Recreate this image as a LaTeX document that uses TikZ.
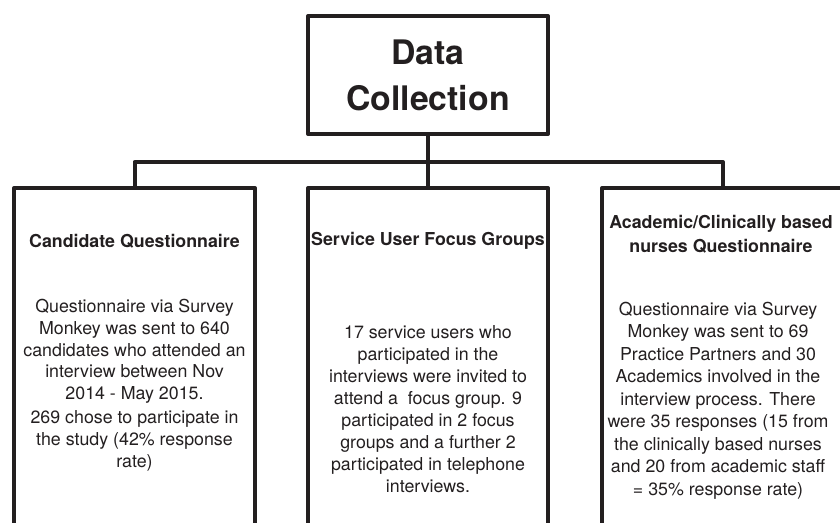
\documentclass[tikz,border=0pt]{standalone}
\usepackage{fontspec}
\setmainfont{TeX Gyre Heros}
\definecolor{ink}{HTML}{231F20}
\begin{document}
\begin{tikzpicture}[x=1pt,y=-1pt,
  frame/.style={draw=ink, line width=4pt, line join=round, rectangle, inner sep=0pt, outer sep=0pt},
  link/.style={draw=ink, line width=4pt, line join=round},
  titletext/.style={font=\fontsize{33.8}{46}\selectfont\bfseries, text=ink, align=center, inner sep=0pt, anchor=base},
  head/.style={font=\fontsize{17.8}{24}\selectfont\bfseries, text=ink, align=center, inner sep=0pt, anchor=base},
  body/.style={font=\fontsize{17.8}{21.9}\selectfont, text=ink, align=center, inner sep=0pt, anchor=base}]
\useasboundingbox (0,0) rectangle (840,522);
\begin{scope}
\clip (0,0) rectangle (840,522);
\node[frame, minimum width=240pt, minimum height=118pt] (top) at (428,75) {};
\node[frame, minimum width=241pt, minimum height=352pt] (cand) at (134.5,364) {};
\node[frame, minimum width=240pt, minimum height=352pt] (serv) at (428,364) {};
\node[frame, minimum width=242pt, minimum height=352pt] (acad) at (723,364) {};
\coordinate (bar) at (428,162);
\draw[link] (top.south) -- (serv.north);
\draw[link] (cand.north) -- (cand.north |- bar) -| (acad.north);

% anchor=base of a multi-line node lies on its last line
\node[titletext] (ttl) at (428,110) {Data\\Collection};

\node[head] (candh) at (134.5,247) {Candidate Questionnaire};
\node[body] (candb) at (134.5,467) {Questionnaire via Survey\\Monkey was sent to 640\\candidates who attended an\\interview between Nov\\2014 - May 2015.\\[1.5pt]269 chose to participate in\\the study (42\% response\\rate)};

\node[head] (servh) at (428,245) {Service User Focus Groups};
\node[body] (servb) at (428,492) {17 service users who\\participated in the\\interviews were invited to\\attend a\ \ focus group. 9\\participated in 2 focus\\groups and a further 2\\participated in telephone\\interviews.};

\node[head] (acadh) at (721,252) {Academic/Clinically based\\nurses Questionnaire};
\node[body, font=\fontsize{17.8}{22.5}\selectfont] (acadb) at (718,495) {Questionnaire via Survey\\Monkey was sent to 69\\Practice Partners and 30\\Academics involved in the\\interview process. There\\were 35 responses (15 from\\the clinically based nurses\\and 20 from academic staff\\= 35\% response rate)};
\end{scope}
\end{tikzpicture}
\end{document}
